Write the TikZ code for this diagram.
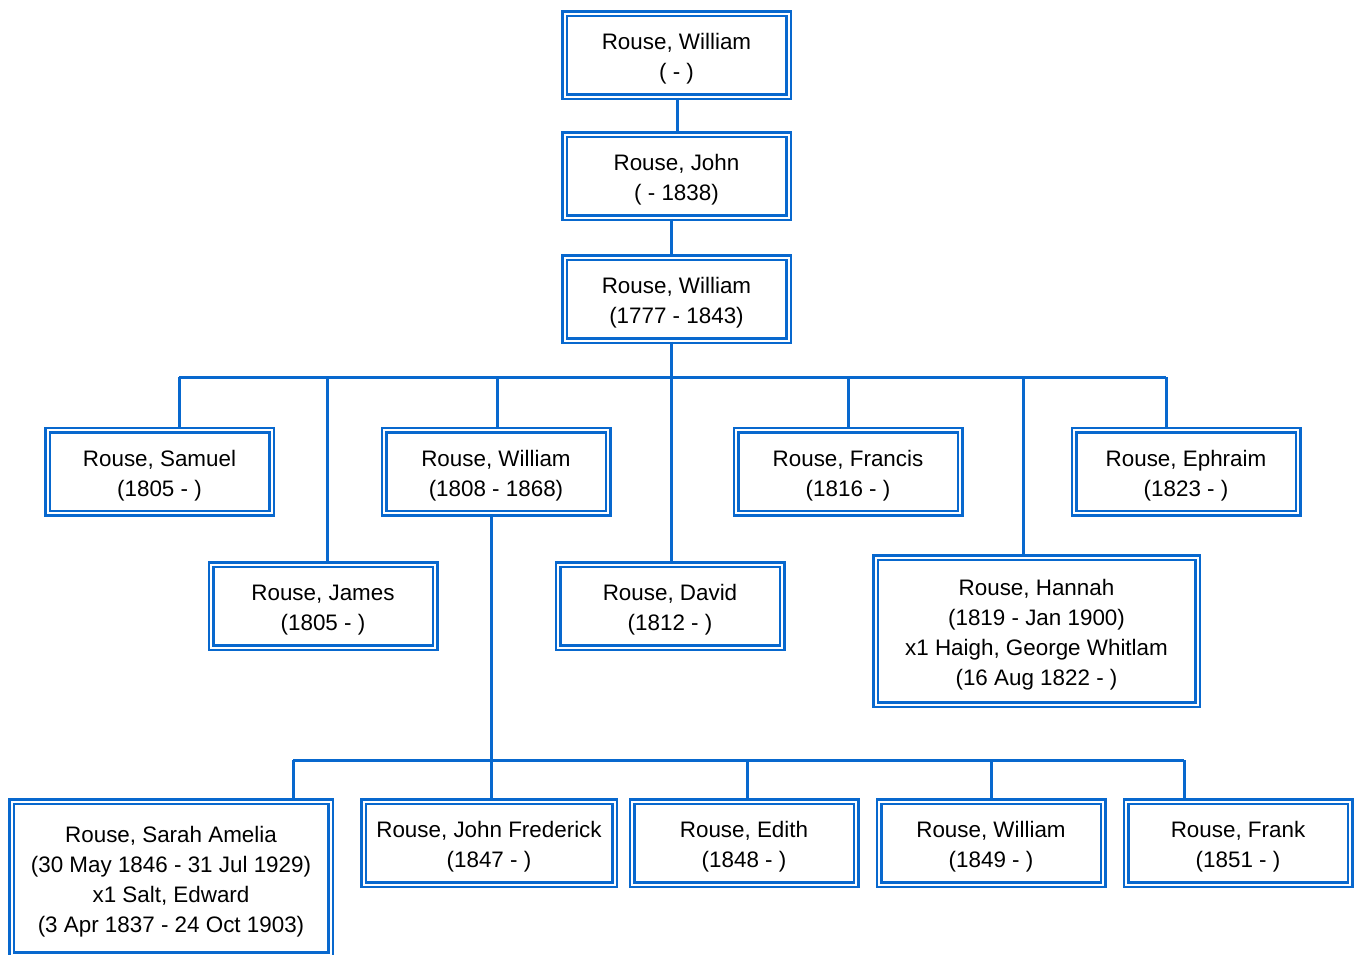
\documentclass[tikz,border=0pt]{standalone}
\usepackage{fontspec}
\setmainfont{Liberation Sans}
\definecolor{lineblue}{RGB}{8,104,206}
\begin{document}
\begin{tikzpicture}[x=1pt,y=-1pt,
  personbox/.style={draw=lineblue, double=white, double distance=2pt, line width=2.5pt,
    minimum width=224pt, minimum height=83pt, inner sep=0pt},
  persontext/.style={inner sep=0pt, align=center, yshift=-4pt,
    font=\fontsize{22.4}{30}\selectfont, text=black},
  person/.style={personbox, label={[persontext]center:#1}},
  link/.style={draw=lineblue, line width=3pt}]
\useasboundingbox[fill=white] (0,0) rectangle (1357,954);
% generation 1-3
\node[person={Rouse, William\\( - )}] (w1) at (676.5,55) {};
\node[person={Rouse, John\\( - 1838)}] (john) at (676.5,176) {};
\node[person={Rouse, William\\(1777 - 1843)}] (w2) at (676.5,299) {};
% children of William 1777
\node[person={Rouse, Samuel\\(1805 - )}] (samuel) at (159.5,471.5) {};
\node[person={Rouse, William\\(1808 - 1868)}] (w1808) at (496,471.5) {};
\node[person={Rouse, Francis\\(1816 - )}] (francis) at (848,471.5) {};
\node[person={Rouse, Ephraim\\(1823 - )}] (ephraim) at (1186,471.5) {};
\node[person={Rouse, James\\(1805 - )}] (james) at (323,606) {};
\node[person={Rouse, David\\(1812 - )}] (david) at (670,606) {};
\node[person={Rouse, Hannah\\(1819 - Jan 1900)\\x1 Haigh, George Whitlam\\(16 Aug 1822 - )},
  minimum width=322pt, minimum height=147pt] (hannah) at (1036.5,631) {};
% children of William 1808
\node[person={Rouse, Sarah Amelia\\(30 May 1846 - 31 Jul 1929)\\x1 Salt, Edward\\(3 Apr 1837 - 24 Oct 1903)},
  minimum width=319pt, minimum height=153pt] (sarah) at (171,878) {};
\node[person={Rouse, John Frederick\\(1847 - )}, minimum width=251pt] (johnf) at (489,843) {};
\node[person={Rouse, Edith\\(1848 - )}] (edith) at (744,843) {};
\node[person={Rouse, William\\(1849 - )}] (w1849) at (991,843) {};
\node[person={Rouse, Frank\\(1851 - )}] (frank) at (1238,843) {};
% bus coordinates
\coordinate (busA) at (671,377);
\coordinate (busB) at (491,760);
% connectors
\draw[link] (w1.south -| 677,0) -- (john.north -| 677,0);
\draw[link] (john.south -| 671,0) -- (w2.north -| 671,0);
\draw[link] (w2.south -| 671,0) -- (david.north -| 671,0);
\draw[link] (179,377) -- (1166,377);
\draw[link] (busA -| 179,0) -- (samuel.north -| 179,0);
\draw[link] (busA -| 327,0) -- (james.north -| 327,0);
\draw[link] (busA -| 497,0) -- (w1808.north -| 497,0);
\draw[link] (busA -| 848,0) -- (francis.north -| 848,0);
\draw[link] (busA -| 1023,0) -- (hannah.north -| 1023,0);
\draw[link] (busA -| 1166,0) -- (ephraim.north -| 1166,0);
\draw[link] (w1808.south -| 491,0) -- (johnf.north -| 491,0);
\draw[link] (293,760) -- (1184,760);
\draw[link] (busB -| 293,0) -- (sarah.north -| 293,0);
\draw[link] (busB -| 747,0) -- (edith.north -| 747,0);
\draw[link] (busB -| 991,0) -- (w1849.north -| 991,0);
\draw[link] (busB -| 1184,0) -- (frank.north -| 1184,0);
\end{tikzpicture}
\end{document}
